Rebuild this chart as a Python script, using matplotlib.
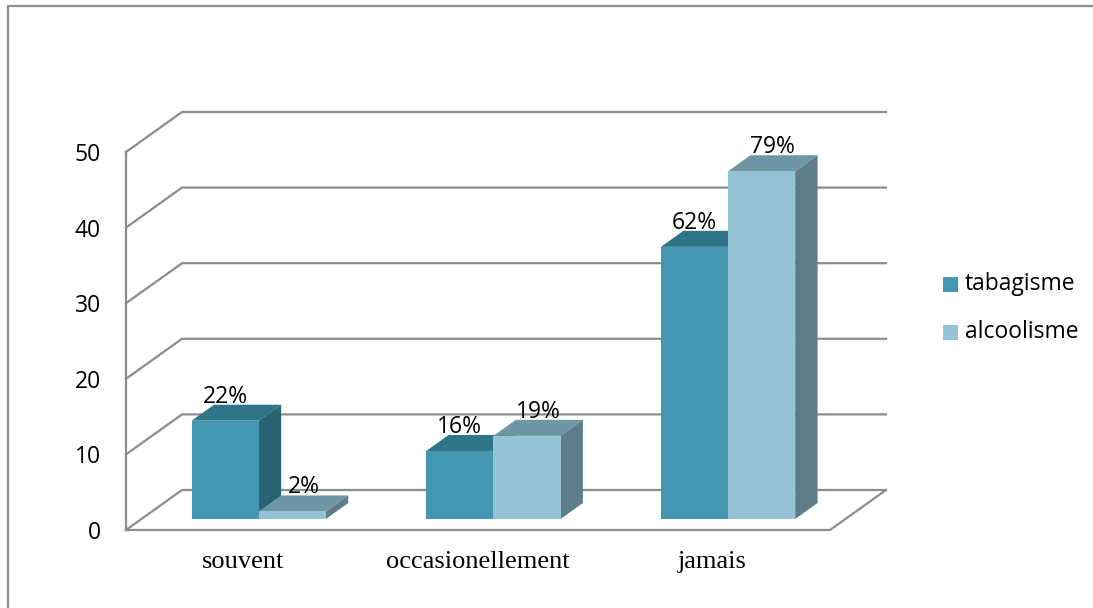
import matplotlib
matplotlib.use("Agg")
import matplotlib.pyplot as plt
from matplotlib.patches import Polygon, Rectangle

# données
categories = ["souvent", "occasionellement", "jamais"]
series = ["tabagisme", "alcoolisme"]
tabagisme = [13, 9, 36]
alcoolisme = [1, 11, 46]
yticks = [0, 10, 20, 30, 40, 50]

# couleurs (face avant, dessus, côté)
colors = {
    "tabagisme": ("#4397b0", "#2f7487", "#276474"),
    "alcoolisme": ("#93c3d5", "#6f96a4", "#5e7d89"),
}
grid_col = "#8c8c8c"

# repère pseudo 3D en pixels
X0, Y0 = 126, 530        # origine de l'axe avant
CW = (830 - 126) / 3     # largeur d'une catégorie
VS = 378 / 50            # pixels par unité
DX, DY = 56, 40          # profondeur du plancher
D_FRONT, D_BACK = 0.275, 0.675
BAR_W = 0.286


def px(c, d):
    return X0 + c * CW + d * DX


def py(v, d):
    return Y0 - v * VS - d * DY


fig = plt.figure(figsize=(10.93, 6.08), dpi=100)
ax = fig.add_axes([0, 0, 1, 1])
ax.set_xlim(0, 1093)
ax.set_ylim(608, 0)
ax.axis("off")

# cadre
ax.plot([8, 8, 1093], [608, 6, 6], color=grid_col, lw=1.6, solid_capstyle="butt")

# quadrillage (paroi gauche + fond)
for v in yticks:
    ax.plot([px(0, 0), px(0, 1), px(3, 1)], [py(v, 0), py(v, 1), py(v, 1)],
            color=grid_col, lw=1.6, zorder=1)
    ax.text(101, py(v, 0) + 3, str(v), ha="right", va="center",
            fontsize=16.5, family="Open Sans")

# axe vertical et plancher
ax.plot([px(0, 0), px(0, 0)], [py(0, 0), py(yticks[-1], 0)], color=grid_col, lw=1.6, zorder=1)
ax.plot([px(0, 0), px(3, 0), px(3, 1)], [py(0, 0), py(0, 0), py(0, 1)],
        color=grid_col, lw=1.6, zorder=1)

total_t = sum(tabagisme)
total_a = sum(alcoolisme)
label_depth = {"tabagisme": 0.0, "alcoolisme": 0.5}

for i, cat in enumerate(categories):
    for j, (name, vals, tot) in enumerate([("tabagisme", tabagisme, total_t),
                                             ("alcoolisme", alcoolisme, total_a)]):
        v = vals[i]
        front, top, side = colors[name]
        left = i + 0.5 - BAR_W + j * BAR_W
        right = left + BAR_W
        f0, f1 = D_FRONT, D_BACK
        # dessus
        ax.add_patch(Polygon([(px(left, f0), py(v, f0)), (px(right, f0), py(v, f0)),
                              (px(right, f1), py(v, f1)), (px(left, f1), py(v, f1))],
                             closed=True, fc=top, ec="none", zorder=3))
        # côté droit
        ax.add_patch(Polygon([(px(right, f0), py(0, f0)), (px(right, f0), py(v, f0)),
                              (px(right, f1), py(v, f1)), (px(right, f1), py(0, f1))],
                             closed=True, fc=side, ec="none", zorder=3))
        # face avant
        ax.add_patch(Polygon([(px(left, f0), py(0, f0)), (px(right, f0), py(0, f0)),
                              (px(right, f0), py(v, f0)), (px(left, f0), py(v, f0))],
                             closed=True, fc=front, ec="none", zorder=3))
        # étiquette en pourcentage
        pct = round(100 * v / tot)
        lx = px((left + right) / 2, f0) + label_depth[name] * (f1 - f0) * DX
        ax.text(lx, py(v, f1) - 2, f"{pct}%", ha="center", va="baseline",
                fontsize=16.5, family="Open Sans", zorder=5)

    ax.text(px(i + 0.5, 0), 562, cat, ha="center", va="center",
            fontsize=19, family="Liberation Serif")

# légende
for k, name in enumerate(series):
    yc = 284 + k * 48
    ax.add_patch(Rectangle((943, yc - 7), 15, 15, fc=colors[name][0], ec="none"))
    ax.text(965, yc, name, ha="left", va="center", fontsize=16.5, family="Open Sans")

fig.savefig("out.png", dpi=100)
